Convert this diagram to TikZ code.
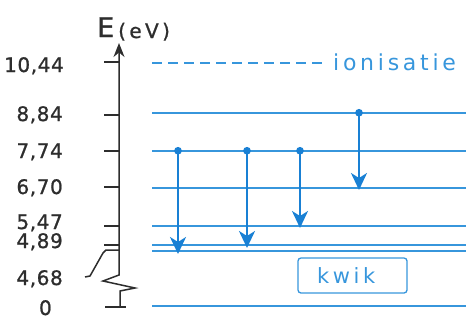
\documentclass[tikz,border=0pt]{standalone}
\usepackage{fontspec}
\setmainfont{DejaVu Sans}
\usetikzlibrary{arrows.meta}
\definecolor{levelblue}{RGB}{55,150,220}
\definecolor{arrowblue}{RGB}{25,128,212}
\definecolor{inkgray}{RGB}{45,45,45}

\begin{document}
\begin{tikzpicture}[x=1pt,y=-1pt,
 level/.style={levelblue,line width=1.4pt},
 tick/.style={inkgray,line width=1.5pt},
 value/.style={anchor=base east,inner sep=0pt,text=inkgray,
               font=\fontsize{20}{20}\selectfont\addfontfeature{LetterSpace=3,FakeBold=1}},
 trans/.style={arrowblue,line width=2.2pt,
               {Circle[length=7.5pt]}-{Stealth[length=17pt,width=16pt,inset=5pt]}}]
\useasboundingbox (0,0) rectangle (468,327);
% energieniveaus
\foreach \y in {113,151,188,226,245,251,306}
  \draw[level] (152,\y) -- (466,\y);
\draw[level,dash pattern=on 10pt off 6pt] (152,63) -- (326,63);
\node[anchor=base west,inner sep=0pt,text=levelblue,
      font=\fontsize{22}{22}\selectfont\addfontfeature{LetterSpace=17}] (ion) at (333,70) {ionisatie};
\node[draw=levelblue,line width=1.3pt,rounded corners=3pt,minimum width=109pt,minimum height=35pt]
  (kwik) at (352.5,275.5) {};
\node[anchor=base west,inner sep=0pt,text=levelblue,
      font=\fontsize{21}{21}\selectfont\addfontfeature{LetterSpace=17}] (kwiktxt) at (317,283) {kwik};
% as
\draw[tick,-{Stealth[length=14pt,width=11pt]}] (120,307) -- (120,291) -- (135,288) -- (103,281)
  -- (119,275) -- (119,43);
\node[anchor=base west,inner sep=0pt,text=inkgray,
      font=\fontsize{27}{27}\selectfont\addfontfeature{FakeBold=1}] (E) at (97,37) {E};
\node[anchor=base west,inner sep=0pt,text=inkgray,
      font=\fontsize{20}{20}\selectfont\addfontfeature{LetterSpace=17,FakeBold=1}] (unit) at (118,38) {(eV)};
\foreach \y in {62,115,151,187,226,245}
  \draw[tick] (104,\y) -- (119,\y);
\draw[tick] (85,277) -- (90,276) -- (103,253) -- (106,250) -- (119,250);
\draw[tick] (105,307) -- (126,307);
\node[value] (l1044) at (64,72) {10,44};
\node[value] (l884) at (63,121) {8,84};
\node[value] (l774) at (63,158) {7,74};
\node[value] (l670) at (63,194) {6,70};
\node[value] (l547) at (63,229) {5,47};
\node[value] (l489) at (63,248) {4,89};
\node[value] (l468) at (63,285) {4,68};
\node[value] (l0) at (52,315) {0};
% overgangen
\draw[trans] (178,147) -- (178,254);
\draw[trans] (247,147) -- (247,248);
\draw[trans] (300,147) -- (300,228);
\draw[trans] (359,109) -- (359,190);
\end{tikzpicture}
\end{document}
